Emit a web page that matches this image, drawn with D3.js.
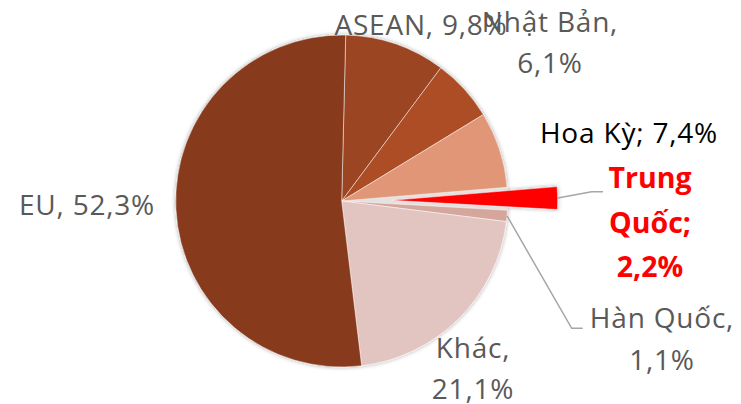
<!DOCTYPE html>
<html>
<head>
<meta charset="utf-8">
<script src="https://cdn.jsdelivr.net/npm/d3@7"></script>
<style>
  html, body { margin: 0; padding: 0; background: #fff; }
  svg { display: block; }
</style>
</head>
<body>
<script>
// Export market shares, clockwise from 12 o'clock
const categories = ["ASEAN", "Nhật Bản", "Hoa Kỳ", "Trung Quốc", "Hàn Quốc", "Khác", "EU"];
const shares = [9.8, 6.1, 7.4, 2.2, 1.1, 21.1, 52.3];
const separators = [",", ",", ";", ";", ",", ",", ","];
const highlighted = "Trung Quốc";

// Styling kept apart from the values
const sliceColors = ["#9b4421", "#ad4e27", "#e09677", "#ff0000", "#d5a69b", "#e2c5c0", "#873a1d"];
const labelColors = { "Hoa Kỳ": "#000000", "Trung Quốc": "#ff0000" };
const defaultLabelColor = "#595959";

const W = 741, H = 404;
const cx = 341.7, cy = 201, R = 166;
const rotation = 1.38 * Math.PI / 180;
const explodeBy = 50;

// Label placement: centre x, first baseline, line gap, wrapping mode
const labelLayout = {
  "ASEAN":      { x: 421, y: 35,  gap: 41, wrap: "one" },
  "Nhật Bản":   { x: 550, y: 32,  gap: 41, wrap: "two" },
  "Hoa Kỳ":     { x: 629, y: 143, gap: 41, wrap: "one" },
  "Trung Quốc": { x: 650, y: 188, gap: 44.5, wrap: "words" },
  "Hàn Quốc":   { x: 662, y: 328, gap: 42, wrap: "two" },
  "Khác":       { x: 473, y: 358, gap: 41, wrap: "two" },
  "EU":         { x: 87,  y: 215, gap: 41, wrap: "one" }
};
// Leader lines run from the slice edge to an elbow, then across to the label
const leaders = {
  "Trung Quốc": { elbow: [591.7, 191.7], end: [603, 191.7] },
  "Hàn Quốc":   { elbow: [571.7, 328.3], end: [582.7, 328.3] }
};

const data = categories.map((name, i) => ({ name, value: shares[i], sep: separators[i], color: sliceColors[i] }));

const fmt = v => v.toFixed(1).replace(".", ",") + "%";

function labelLines(d) {
  const mode = labelLayout[d.name].wrap;
  if (mode === "one") return [`${d.name}${d.sep} ${fmt(d.value)}`];
  if (mode === "two") return [`${d.name}${d.sep}`, fmt(d.value)];
  const words = d.name.split(" ");
  words[words.length - 1] += d.sep;
  return [...words, fmt(d.value)];
}

const svg = d3.select("body").append("svg")
  .attr("width", W).attr("height", H)
  .attr("viewBox", `0 0 ${W} ${H}`);

const defs = svg.append("defs");
const shadow = defs.append("filter").attr("id", "pieShadow")
  .attr("x", "-20%").attr("y", "-20%").attr("width", "140%").attr("height", "140%");
shadow.append("feDropShadow")
  .attr("dx", 0).attr("dy", 0).attr("stdDeviation", 2.2)
  .attr("flood-color", "#000").attr("flood-opacity", 0.35);

const pie = d3.pie().sort(null).value(d => d.value)
  .startAngle(rotation).endAngle(rotation + 2 * Math.PI);
const arcs = pie(data);
const arc = d3.arc().innerRadius(0).outerRadius(R);

const g = svg.append("g").attr("transform", `translate(${cx},${cy})`).attr("filter", "url(#pieShadow)");

// Hollow left behind by the pulled-out slice
arcs.filter(a => a.data.name === highlighted).forEach(a => {
  g.append("path").attr("d", arc(a)).attr("fill", "#e4e1e0");
});

const mid = a => (a.startAngle + a.endAngle) / 2;

g.selectAll("path.slice")
  .data(arcs)
  .join("path")
  .attr("class", "slice")
  .attr("d", arc)
  .attr("fill", a => a.data.color)
  .attr("stroke", "#ffffff")
  .attr("stroke-opacity", 0.55)
  .attr("stroke-width", 0.9)
  .attr("transform", a => {
    if (a.data.name !== highlighted) return null;
    const m = mid(a);
    return `translate(${Math.sin(m) * explodeBy},${-Math.cos(m) * explodeBy})`;
  });

// Leader lines
arcs.filter(a => leaders[a.data.name]).forEach(a => {
  const m = mid(a);
  const r = a.data.name === highlighted ? R + explodeBy : R;
  const start = [cx + Math.sin(m) * r, cy - Math.cos(m) * r];
  const L = leaders[a.data.name];
  svg.append("path")
    .attr("d", d3.line()([start, L.elbow, L.end]))
    .attr("fill", "none")
    .attr("stroke", "#a6a6a6")
    .attr("stroke-width", 1.5);
});

// Data labels
const labels = svg.append("g")
  .attr("font-family", "'Open Sans', 'Noto Sans', sans-serif");

data.forEach(d => {
  const L = labelLayout[d.name];
  const isHi = d.name === highlighted;
  const t = labels.append("text")
    .attr("text-anchor", "middle")
    .attr("font-size", isHi ? 28.5 : 28)
    .attr("font-weight", isHi ? 700 : 400)
    .attr("letter-spacing", isHi ? 0 : 0.8)
    .attr("fill", labelColors[d.name] || defaultLabelColor);
  labelLines(d).forEach((line, i) => {
    t.append("tspan").attr("x", L.x).attr("y", L.y + i * L.gap).text(line);
  });
});
</script>
</body>
</html>
